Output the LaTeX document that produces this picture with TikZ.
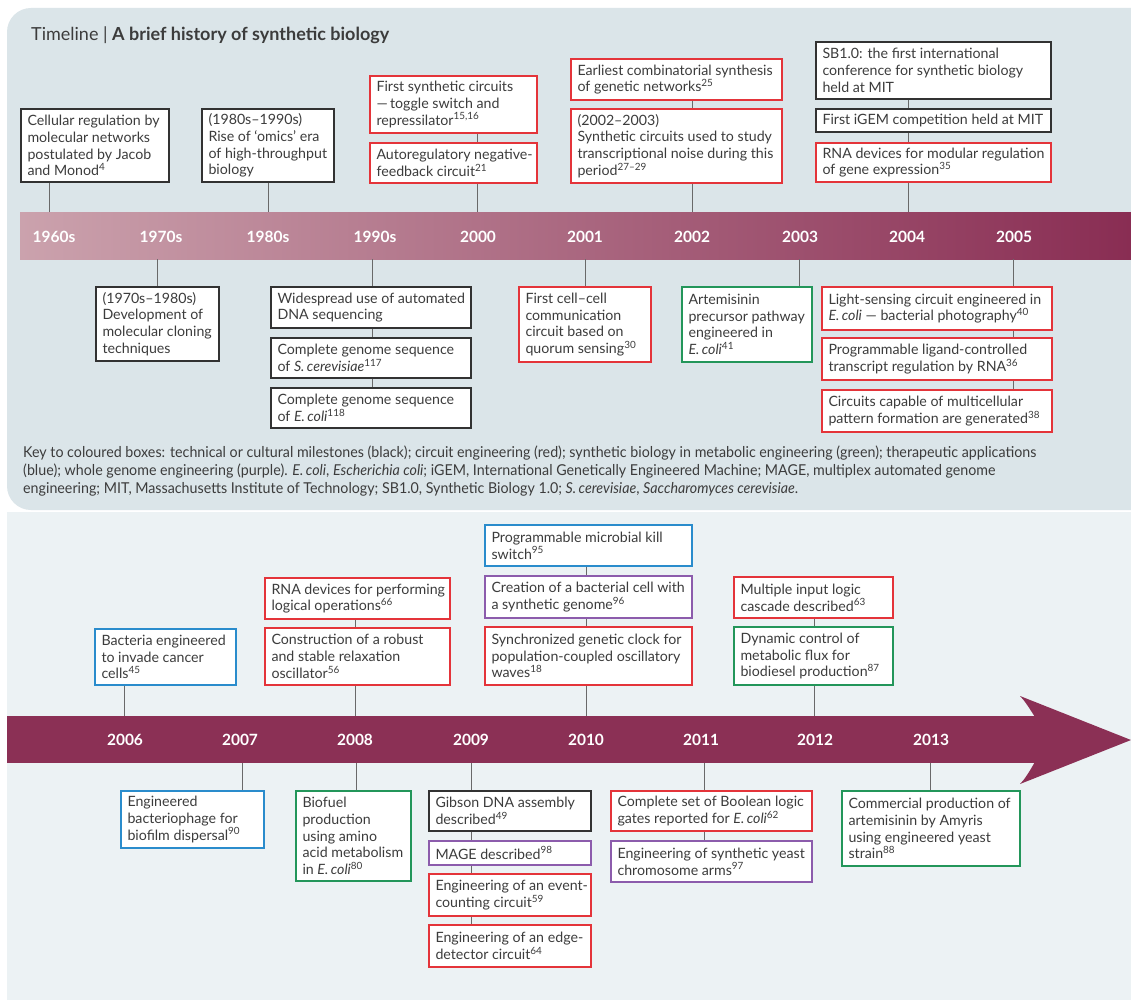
\documentclass[tikz,border=0pt]{standalone}
\usepackage{fontspec}
\setmainfont{Lato}
\newfontfamily\keyfont{Lato}[FakeStretch=0.95]
\definecolor{panelA}{RGB}{219,229,233}
\definecolor{panelB}{RGB}{236,242,244}
\definecolor{barL}{RGB}{203,162,173}
\definecolor{barR}{RGB}{137,45,83}
\definecolor{maroon}{RGB}{139,48,85}
\definecolor{cRed}{RGB}{228,52,58}
\definecolor{cGreen}{RGB}{35,150,90}
\definecolor{cBlue}{RGB}{42,140,204}
\definecolor{cPurple}{RGB}{140,92,172}
\definecolor{cBlack}{RGB}{50,50,50}
\definecolor{txt}{RGB}{60,60,60}
\definecolor{connc}{RGB}{105,105,105}
\newcommand\sr[1]{\textsuperscript{#1}}
\tikzset{
  ebox/.style={draw=#1, fill=white, line width=1.4pt, inner xsep=3pt, inner ysep=0pt,
    text=txt, font=\fontsize{14.2}{16.7}\selectfont},
  link/.style={draw=connc, line width=1pt},
  yr/.style={text=white, font=\fontsize{15.5}{17}\selectfont\bfseries},
}
\newcommand\bx[7]{%
  \node[ebox=#2, minimum width={(#5-#3)*1pt}, minimum height={(#6-#4)*1pt}] (#1)
    at ({(#3+#5)/2},{(#4+#6)/2}) {\parbox{\dimexpr #5pt-#3pt-6pt\relax}{\raggedright\leftskip=3.5pt #7}};}
\begin{document}
\begin{tikzpicture}[x=1pt,y=-1pt]
\useasboundingbox (0,0) rectangle (1131,1003);
\clip (0,0) rectangle (1131,1003);
\fill[white] (0,0) rectangle (1131,1003);
% panels
\fill[panelA, rounded corners=24pt] (1200,8) -- (7,8) -- (7,510) -- (1200,510) -- cycle;
\fill[panelB] (7,512) rectangle (1131,1000);
% title
\node[anchor=base west, inner sep=0pt, text=txt, font=\fontsize{18}{20}\selectfont] (title) at (31,41)
  {Timeline | \textbf{A brief history of synthetic biology}};
% top bar
\node[inner sep=0pt, minimum width=1111pt, minimum height=47pt, left color=barL, right color=barR,
  anchor=north west] (bar1) at (20,212) {};
\foreach \lab/\xx in {1960s/54,1970s/161,1980s/268,1990s/375,2000/478,2001/585,2002/692,2003/800,2004/907,2005/1014}
  \node[yr] (n\lab) at (\xx,237) {\lab};
% tick coordinates top
\coordinate (t1960) at (49,236);
\coordinate (t1970) at (157,236);
\coordinate (t1980) at (268,236);
\coordinate (t1990) at (372,236);
\coordinate (t2000) at (477,236);
\coordinate (t2001) at (585,236);
\coordinate (t2002) at (692,236);
\coordinate (t2003) at (799,236);
\coordinate (t2004) at (908,236);
\coordinate (t2005) at (1013,236);
% top boxes above
\bx{A1}{cBlack}{21}{109}{169}{182}{Cellular regulation by\\molecular networks\\postulated by Jacob\\and Monod\sr{4}}
\bx{A2}{cBlack}{202}{109}{334}{182}{(1980s--1990s)\\Rise of ‘omics’ era\\of high-throughput\\biology}
\bx{A3}{cRed}{370}{76}{537}{133}{First synthetic circuits\\---\,toggle switch and\\repressilator\sr{15,16}}
\bx{A4}{cRed}{370}{143}{537}{183}{Autoregulatory negative-\\feedback circuit\sr{21}}
\bx{A5}{cRed}{571}{59}{782}{100}{Earliest combinatorial synthesis\\of genetic networks\sr{25}}
\bx{A6}{cRed}{571}{109}{782}{183}{(2002--2003)\\Synthetic circuits used to study\\transcriptional noise during this\\period\sr{27--29}}
\bx{A7}{cBlack}{816}{42}{1051}{99}{SB1.0: the first international\\conference for synthetic biology\\held at MIT}
\bx{A8}{cBlack}{816}{109}{1051}{132}{First iGEM competition held at MIT}
\bx{A9}{cRed}{816}{143}{1051}{182}{RNA devices for modular regulation\\of gene expression\sr{35}}
% top boxes below
\bx{B1}{cBlack}{96}{287}{219}{361}{(1970s--1980s)\\Development of\\molecular cloning\\techniques}
\bx{B2}{cBlack}{271}{287}{471}{328}{Widespread use of automated\\DNA sequencing}
\bx{B3}{cBlack}{271}{338}{471}{378}{Complete genome sequence\\of \emph{S.\,cerevisiae}\sr{117}}
\bx{B4}{cBlack}{271}{388}{471}{428}{Complete genome sequence\\of \emph{E.\,coli}\sr{118}}
\bx{B5}{cRed}{519}{287}{651}{362}{First cell--cell\\communication\\circuit based on\\quorum sensing\sr{30}}
\bx{B6}{cGreen}{682}{287}{812}{362}{Artemisinin\\precursor pathway\\engineered in\\\emph{E.\,coli}\sr{41}}
\bx{B7}{cRed}{822}{287}{1052}{330}{Light-sensing circuit engineered in\\\emph{E.\,coli} --- bacterial photography\sr{40}}
\bx{B8}{cRed}{822}{338}{1052}{380}{Programmable ligand-controlled\\transcript regulation by RNA\sr{36}}
\bx{B9}{cRed}{822}{390}{1052}{432}{Circuits capable of multicellular\\pattern formation are generated\sr{38}}
% top connectors
\draw[link] (A1.south -| t1960) -- (t1960 |- bar1.north);
\draw[link] (A2.south -| t1980) -- (t1980 |- bar1.north);
\draw[link] (A3.south -| t2000) -- (A4.north -| t2000);
\draw[link] (A4.south -| t2000) -- (t2000 |- bar1.north);
\draw[link] (A5.south -| t2002) -- (A6.north -| t2002);
\draw[link] (A6.south -| t2002) -- (t2002 |- bar1.north);
\draw[link] (A7.south -| t2004) -- (A8.north -| t2004);
\draw[link] (A8.south -| t2004) -- (A9.north -| t2004);
\draw[link] (A9.south -| t2004) -- (t2004 |- bar1.north);
\draw[link] (t1970 |- bar1.south) -- (B1.north -| t1970);
\draw[link] (t1990 |- bar1.south) -- (B2.north -| t1990);
\draw[link] (B2.south -| t1990) -- (B3.north -| t1990);
\draw[link] (B3.south -| t1990) -- (B4.north -| t1990);
\draw[link] (t2001 |- bar1.south) -- (B5.north -| t2001);
\draw[link] (t2003 |- bar1.south) -- (B6.north -| t2003);
\draw[link] (t2005 |- bar1.south) -- (B7.north -| t2005);
\draw[link] (B7.south -| t2005) -- (B8.north -| t2005);
\draw[link] (B8.south -| t2005) -- (B9.north -| t2005);
% key
\node[anchor=north west, inner sep=0pt, align=left, text=txt,
  font=\keyfont\fontsize{15}{17.8}\selectfont] (key) at (23,446)
 {Key to coloured boxes: technical or cultural milestones (black); circuit engineering (red); synthetic biology in metabolic engineering (green); therapeutic applications\\
  (blue); whole genome engineering (purple). \emph{E.\,coli}, \emph{Escherichia coli}; iGEM, International Genetically Engineered Machine; MAGE, multiplex automated genome\\
  engineering; MIT, Massachusetts Institute of Technology; SB1.0, Synthetic Biology 1.0; \emph{S.\,cerevisiae}, \emph{Saccharomyces cerevisiae}.};
% bottom bar with arrow head
\node[inner sep=0pt, minimum width=1028pt, minimum height=47pt, fill=maroon, anchor=north west] (bar2) at (7,716) {};
\fill[maroon] (1034,715.5) .. controls (1028,706) and (1024,700) .. (1020,696) -- (1131,740)
  -- (1020,784) .. controls (1024,780) and (1028,774) .. (1034,763.5) -- cycle;
\foreach \lab/\xx in {2006/125,2007/240,2008/355,2009/471,2010/586,2011/701,2012/815,2013/931}
  \node[yr] (n\lab) at (\xx,740) {\lab};
\coordinate (t2006) at (124,740);
\coordinate (t2007) at (242,740);
\coordinate (t2008) at (355,740);
\coordinate (t2008b) at (356,740);
\coordinate (t2009) at (471,740);
\coordinate (t2010) at (586,740);
\coordinate (t2011) at (704,740);
\coordinate (t2012) at (814,740);
\coordinate (t2013) at (930,740);
% bottom boxes above
\bx{C1}{cBlue}{95}{629}{236}{685}{Bacteria engineered\\to invade cancer\\cells\sr{45}}
\bx{C2}{cRed}{265}{578}{450}{619}{RNA devices for performing\\logical operations\sr{66}}
\bx{C3}{cRed}{265}{628}{450}{685}{Construction of a robust\\and stable relaxation\\oscillator\sr{56}}
\bx{C4}{cBlue}{485}{525}{692}{566}{Programmable microbial kill\\switch\sr{95}}
\bx{C5}{cPurple}{485}{576}{692}{618}{Creation of a bacterial cell with\\a synthetic genome\sr{96}}
\bx{C6}{cRed}{485}{627}{692}{685}{Synchronized genetic clock for\\population-coupled oscillatory\\waves\sr{18}}
\bx{C7}{cRed}{734}{577}{893}{618}{Multiple input logic\\cascade described\sr{63}}
\bx{C8}{cGreen}{734}{627}{893}{685}{Dynamic control of\\metabolic flux for\\biodiesel production\sr{87}}
% bottom boxes below
\bx{D1}{cBlue}{121}{791}{264}{848}{Engineered\\bacteriophage for\\biofilm dispersal\sr{90}}
\bx{D2}{cGreen}{296}{791}{411}{881}{Biofuel\\production\\using amino\\acid metabolism\\in \emph{E.\,coli}\sr{80}}
\bx{D3}{cBlack}{429}{791}{591}{831}{Gibson DNA assembly\\described\sr{49}}
\bx{D4}{cPurple}{429}{841}{591}{865}{MAGE described\sr{98}}
\bx{D5}{cRed}{429}{874}{591}{916}{Engineering of an event-\\counting circuit\sr{59}}
\bx{D6}{cRed}{429}{925}{591}{967}{Engineering of an edge-\\detector circuit\sr{64}}
\bx{D7}{cRed}{611}{791}{812}{831}{Complete set of Boolean logic\\gates reported for \emph{E.\,coli}\sr{62}}
\bx{D8}{cPurple}{611}{841}{812}{882}{Engineering of synthetic yeast\\chromosome arms\sr{97}}
\bx{D9}{cGreen}{842}{791}{1020}{866}{Commercial production of\\artemisinin by Amyris\\using engineered yeast\\strain\sr{88}}
% bottom connectors
\draw[link] (C1.south -| t2006) -- (t2006 |- bar2.north);
\draw[link] (C2.south -| t2008) -- (C3.north -| t2008);
\draw[link] (C3.south -| t2008) -- (t2008 |- bar2.north);
\draw[link] (C4.south -| t2010) -- (C5.north -| t2010);
\draw[link] (C5.south -| t2010) -- (C6.north -| t2010);
\draw[link] (C6.south -| t2010) -- (t2010 |- bar2.north);
\draw[link] (C7.south -| t2012) -- (C8.north -| t2012);
\draw[link] (C8.south -| t2012) -- (t2012 |- bar2.north);
\draw[link] (t2007 |- bar2.south) -- (D1.north -| t2007);
\draw[link] (t2008b |- bar2.south) -- (D2.north -| t2008b);
\draw[link] (t2009 |- bar2.south) -- (D3.north -| t2009);
\draw[link] (D3.south -| t2009) -- (D4.north -| t2009);
\draw[link] (D4.south -| t2009) -- (D5.north -| t2009);
\draw[link] (D5.south -| t2009) -- (D6.north -| t2009);
\draw[link] (t2011 |- bar2.south) -- (D7.north -| t2011);
\draw[link] (D7.south -| t2011) -- (D8.north -| t2011);
\draw[link] (t2013 |- bar2.south) -- (D9.north -| t2013);
\end{tikzpicture}
\end{document}
